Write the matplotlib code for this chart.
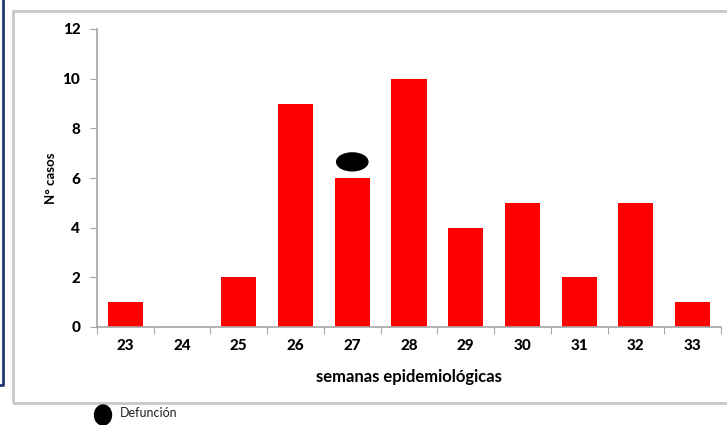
import matplotlib.pyplot as plt
from matplotlib.patches import Ellipse, Rectangle
from matplotlib.lines import Line2D

# Data
weeks = ["23", "24", "25", "26", "27", "28", "29", "30", "31", "32", "33"]
cases = [1, 0, 2, 9, 6, 10, 4, 5, 2, 5, 1]
death_week = "27"
death_y = 6.65
y_ticks = [0, 2, 4, 6, 8, 10, 12]

W, H = 727, 425
fig = plt.figure(figsize=(W / 100, H / 100), dpi=100)
font = "Lato"

# axes placed in pixel terms of the reference
ax = fig.add_axes([97 / W, 1 - 327 / H, (721 - 97) / W, (327 - 29) / H])
x = list(range(len(weeks)))
ax.bar(x, cases, width=0.62, color="#ff0000", zorder=2)

# death marker above week 27
xi = weeks.index(death_week)
ax.add_patch(Ellipse((xi, death_y), 0.55, 0.72, color="black", zorder=3))

ax.set_xlim(-0.5, len(weeks) - 0.5)
ax.set_ylim(0, 12)
ax.set_yticks(y_ticks)
ax.set_yticklabels([str(v) for v in y_ticks], fontfamily=font, fontweight="black", fontsize=11)

# tick marks on category boundaries, labels at centres
ax.set_xticks([i - 0.5 for i in range(len(weeks) + 1)])
ax.set_xticklabels([])
ax.set_xticks(x, minor=True)
ax.set_xticklabels(weeks, minor=True, fontfamily=font, fontweight="black", fontsize=11)
ax.tick_params(axis="x", which="minor", length=0, pad=9)
ax.tick_params(axis="x", which="major", length=5, color="#a6a6a6")
ax.tick_params(axis="y", length=5, color="#a6a6a6", pad=7)

for s in ["top", "right"]:
    ax.spines[s].set_visible(False)
for s in ["left", "bottom"]:
    ax.spines[s].set_color("#a6a6a6")
    ax.spines[s].set_linewidth(1.2)

ax.set_xlabel("semanas epidemiológicas", fontfamily=font, fontweight="bold", fontsize=12, labelpad=11)
ax.set_ylabel("N° casos", fontfamily=font, fontweight="bold", fontsize=9.5, labelpad=4)

# outer frames
fig.patches.append(Rectangle((13 / W, 1 - 403 / H), (W + 5 - 13) / W, (403 - 11) / H,
                             transform=fig.transFigure, fill=False,
                             edgecolor="#c8c8c8", linewidth=2, zorder=0))
fig.lines.append(Line2D([3 / W, 3 / W, 0], [1.0, 1 - 385 / H, 1 - 385 / H],
                        transform=fig.transFigure, color="#1f3a6e", linewidth=2))

# legend for the death marker
fig.patches.append(Ellipse((103 / W, 1 - 415 / H), 17 / W, 20 / H,
                           transform=fig.transFigure, color="black"))
fig.text(120 / W, 1 - 413 / H, "Defunción", fontfamily=font, fontsize=9,
         va="center", ha="left", color="#222222")

fig.savefig("out.png", dpi=100)
